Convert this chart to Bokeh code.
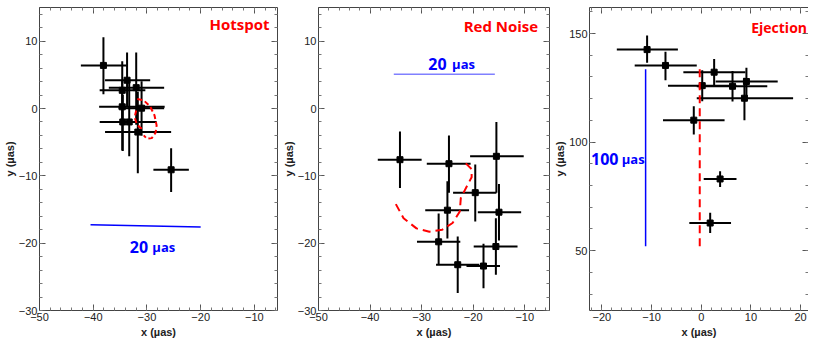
from bokeh.plotting import figure
from bokeh.layouts import row
from bokeh.models import ColumnDataSource, Range1d, LinearAxis, SingleIntervalTicker, Label
from bokeh.embed import file_html
from bokeh.resources import INLINE

# ---------------- data ----------------
# Hotspot panel
hs_x = [-38.1, -33.7, -34.6, -32.0, -34.6, -31.0, -34.5, -33.3, -31.7, -25.5]
hs_y = [6.4, 4.2, 2.7, 3.1, 0.25, 0.05, -2.0, -2.0, -3.5, -9.1]
hs_xm = [4.2, 4.1, 4.2, 5.1, 4.3, 4.3, 4.3, 4.5, 6.1, 3.3]
hs_xp = [4.3, 4.3, 4.3, 5.2, 7.9, 4.2, 6.3, 5.0, 6.2, 3.3]
hs_ym = [4.3, 3.9, 4.3, 5.5, 6.5, 4.1, 4.3, 5.1, 6.1, 3.3]
hs_yp = [4.2, 4.1, 4.3, 5.2, 4.0, 4.0, 4.0, 6.2, 6.0, 3.2]
hs_curve1_x = [-31.8, -30.6, -29.4, -28.6, -28.2, -28.4, -29.1, -30.0, -30.6]
hs_curve1_y = [1.4, 1.2, 0.3, -1.0, -2.5, -3.6, -4.4, -4.5, -4.0]
hs_curve2_x = [-32.0, -32.3, -31.9, -31.2, -30.4]
hs_curve2_y = [-0.3, -1.3, -2.3, -2.9, -3.0]
hs_bar_x = [-40.5, -20.0]
hs_bar_y = [-17.25, -17.6]

# Red Noise panel
rn_x = [-34.2, -24.7, -15.5, -19.6, -25.0, -15.0, -26.7, -15.6, -23.0, -18.0]
rn_y = [-7.6, -8.2, -7.1, -12.5, -15.1, -15.4, -19.8, -20.5, -23.2, -23.4]
rn_xm = [4.3, 4.3, 5.1, 4.3, 4.3, 4.1, 4.2, 4.3, 4.2, 3.3]
rn_xp = [4.2, 4.2, 5.3, 4.1, 4.2, 4.3, 4.2, 4.2, 4.2, 3.2]
rn_ym = [4.2, 4.3, 5.4, 4.3, 4.2, 4.2, 3.3, 4.2, 4.2, 3.3]
rn_yp = [4.2, 4.2, 5.1, 4.2, 4.3, 4.2, 4.2, 4.2, 4.2, 3.3]
rn_curve_x = [-35.0, -33.5, -31.0, -28.5, -26.0, -24.0, -22.6, -22.4, -21.2, -20.3, -20.3, -21.5]
rn_curve_y = [-14.2, -16.3, -17.8, -18.3, -18.0, -17.0, -15.3, -13.3, -11.5, -10.2, -9.0, -8.1]
rn_bar_x = [-35.4, -15.8]
rn_bar_y = [5.1, 5.1]

# Ejection panel
ej_x = [-10.9, -7.2, 2.6, 0.2, 6.3, 9.1, 8.7, -1.5, 3.8, 1.8]
ej_y = [142.6, 135.3, 132.2, 126.0, 125.7, 127.9, 120.2, 110.1, 83.0, 62.7]
ej_xm = [6.1, 6.2, 6.2, 6.9, 7.2, 6.2, 9.6, 6.2, 3.3, 4.2]
ej_xp = [6.2, 6.3, 6.3, 6.9, 7.0, 6.3, 9.8, 6.2, 3.3, 4.2]
ej_ym = [6.1, 6.8, 6.5, 7.2, 7.0, 6.8, 10.1, 6.6, 3.7, 4.6]
ej_yp = [6.5, 6.3, 6.1, 7.1, 7.0, 6.3, 9.4, 6.4, 3.6, 4.7]
ej_curve_x = [-0.3, -0.3]
ej_curve_y = [52.0, 134.0]
ej_bar_x = [-11.2, -11.2]
ej_bar_y = [52.0, 133.5]

TICK_FONT = "Liberation Sans"
TEXT_FONT = "Open Sans"
FIG_H = 341


def make_panel(x, y, xm, xp, ym, yp, xr, yr, xint, yint, width, bl, br):
    p = figure(width=width, height=FIG_H, output_backend="svg", toolbar_location=None,
               x_range=Range1d(*xr), y_range=Range1d(*yr),
               min_border_left=bl, min_border_right=br, min_border_top=7, min_border_bottom=31,
               background_fill_color="white", border_fill_color="white",
               outline_line_color=None)
    p.xgrid.visible = False
    p.ygrid.visible = False
    bottom = p.below[0]
    left = p.left[0]
    bottom.ticker = SingleIntervalTicker(interval=xint, num_minor_ticks=5)
    left.ticker = SingleIntervalTicker(interval=yint[0], num_minor_ticks=yint[1])
    top = LinearAxis(ticker=SingleIntervalTicker(interval=xint, num_minor_ticks=5),
                     major_label_text_font_size="0px", major_label_text_color=None,
                     major_label_standoff=0, axis_label_standoff=0)
    right = LinearAxis(ticker=SingleIntervalTicker(interval=yint[0], num_minor_ticks=yint[1]),
                       major_label_text_font_size="0px", major_label_text_color=None,
                       major_label_standoff=0, axis_label_standoff=0)
    p.add_layout(top, "above")
    p.add_layout(right, "right")
    for ax in [bottom, left, top, right]:
        ax.axis_line_color = "#444444"
        ax.major_tick_line_color = "#555555"
        ax.minor_tick_line_color = "#777777"
        ax.major_tick_in = 6
        ax.major_tick_out = 0
        ax.minor_tick_in = 3
        ax.minor_tick_out = 0
    for ax in [bottom, left]:
        ax.major_label_text_font = TICK_FONT
        ax.major_label_text_color = "#222222"
        ax.major_label_text_font_size = "11px"
        ax.major_label_standoff = 2
        ax.axis_label_text_font = TICK_FONT
        ax.axis_label_text_font_size = "11px"
        ax.axis_label_text_font_style = "bold"
        ax.axis_label_text_color = "#222222"
        ax.axis_label_standoff = 2
    bottom.axis_label = "x (µas)"
    left.axis_label = "y (µas)"
    left.axis_label_standoff = 0

    src = ColumnDataSource(dict(
        x=x, y=y,
        x0=[a - b for a, b in zip(x, xm)], x1=[a + b for a, b in zip(x, xp)],
        y0=[a - b for a, b in zip(y, ym)], y1=[a + b for a, b in zip(y, yp)],
    ))
    p.segment(x0="x0", y0="y", x1="x1", y1="y", source=src, line_color="black", line_width=2)
    p.segment(x0="x", y0="y0", x1="x", y1="y1", source=src, line_color="black", line_width=2)
    p.scatter(x="x", y="y", source=src, marker="square", size=6, color="black")
    return p


def add_text(p, x, y, text, color, size, align="left", baseline="alphabetic"):
    p.add_layout(Label(x=x, y=y, text=text, text_color=color, text_font=TEXT_FONT,
                       text_font_style="bold", text_font_size=size,
                       text_align=align, text_baseline=baseline))


# Panel 1: Hotspot
p1 = make_panel(hs_x, hs_y, hs_xm, hs_xp, hs_ym, hs_yp, (-50, -5.7), (-30, 15), 10, (10, 5), 279, 32, 2)
p1.line(hs_curve1_x, hs_curve1_y, line_color="red", line_width=2, line_dash="5 3")
p1.line(hs_curve2_x, hs_curve2_y, line_color="red", line_width=2, line_dash="5 3")
p1.line(hs_bar_x, hs_bar_y, line_color="blue", line_width=1.5)
add_text(p1, -7.2, 12.5, "Hotspot", "red", "15px", align="right", baseline="middle")
add_text(p1, -33.2, -20.5, "20", "blue", "16px")
add_text(p1, -29.0, -20.5, "µas", "blue", "13px")

# Panel 2: Red Noise
p2 = make_panel(rn_x, rn_y, rn_xm, rn_xp, rn_ym, rn_yp, (-50, -5.2), (-30, 15), 10, (10, 5), 272, 26, 2)
p2.line(rn_curve_x, rn_curve_y, line_color="red", line_width=2, line_dash="8 5")
p2.line(rn_bar_x, rn_bar_y, line_color="#8080ff", line_width=1.5)
add_text(p2, -7.4, 12.2, "Red Noise", "red", "15px", align="right", baseline="middle")
add_text(p2, -28.7, 6.55, "20", "blue", "16px")
add_text(p2, -24.1, 6.55, "µas", "blue", "13px")

# Panel 3: Ejection
p3 = make_panel(ej_x, ej_y, ej_xm, ej_xp, ej_ym, ej_yp, (-22.5, 21.6), (22.4, 162), 10, (50, 5), 257, 26, 0)
p3.line(ej_curve_x, ej_curve_y, line_color="red", line_width=2, line_dash="8 5")
p3.line(ej_bar_x, ej_bar_y, line_color="blue", line_width=1.5)
add_text(p3, 21.3, 152.8, "Ejection", "red", "14px", align="right", baseline="middle")
add_text(p3, -22.2, 92.4, "100", "blue", "16px")
add_text(p3, -16.0, 92.4, "µas", "blue", "13px")

layout = row(p1, p2, p3, spacing=0)
open("out.html", "w").write(file_html(layout, INLINE))
